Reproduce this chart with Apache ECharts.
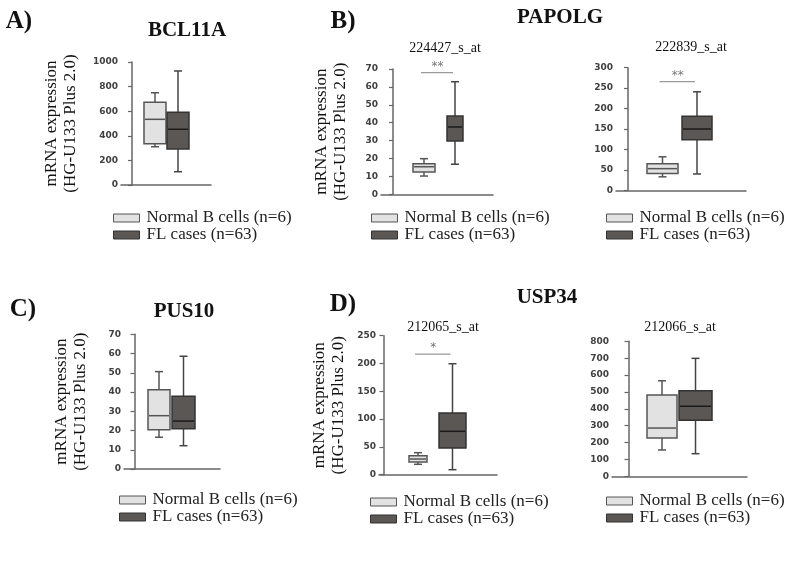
<!DOCTYPE html>
<html><head><meta charset="utf-8">
<script src="https://cdn.jsdelivr.net/npm/echarts@6/dist/echarts.min.js"></script>
<style>html,body{margin:0;padding:0;background:#fff}#c{width:788px;height:562px}</style>
</head><body><div id="c"></div>
<script>
// ---------- data ----------
const groupNames = ['Normal B cells (n=6)', 'FL cases (n=63)'];
const panelGenes = ['BCL11A', 'PAPOLG', 'PUS10', 'USP34'];
const panelLetters = ['A)', 'B)', 'C)', 'D)'];
const probeNames = ['', '224427_s_at', '222839_s_at', '', '212065_s_at', '212066_s_at'];
// five-number summaries: [min, Q1, median, Q3, max]
const bcl11aNormal = [311, 336, 534, 672, 750];
const bcl11aFL = [108, 293, 453, 591, 927];
const papolg224427Normal = [10.2, 12.5, 15.4, 17.1, 19.9];
const papolg224427FL = [16.8, 29.8, 37.6, 43.7, 62.9];
const papolg222839Normal = [33, 41, 53, 65, 82];
const papolg222839FL = [40, 124, 150, 181, 241];
const pus10Normal = [16.5, 20.4, 27.7, 41.2, 50.6];
const pus10FL = [12.1, 20.9, 24.9, 37.8, 58.6];
const usp34_212065Normal = [18.7, 22.8, 28.2, 34, 39.6];
const usp34_212065FL = [9, 48, 78, 111, 199.6];
const usp34_212066Normal = [156, 227, 286, 482, 566];
const usp34_212066FL = [134, 332, 415, 507, 699];
// y axis ticks
const yMax = [1000, 70, 300, 70, 250, 800];
const yStep = [200, 10, 50, 10, 50, 100];
// significance
const sigMarks = ['', '**', '**', '', '*', ''];
const sigLevels = [null, 68, 266, null, 217, null];
const yAxisTitle = 'mRNA expression\n(HG-U133 Plus 2.0)';

const panelData = [
  [bcl11aNormal, bcl11aFL],
  [papolg224427Normal, papolg224427FL],
  [papolg222839Normal, papolg222839FL],
  [pus10Normal, pus10FL],
  [usp34_212065Normal, usp34_212065FL],
  [usp34_212066Normal, usp34_212066FL]
];

// ---------- layout & style ----------
const grids = [
  {left: 121, top: 62, width: 90, height: 123},
  {left: 381, top: 69, width: 112, height: 125.3},
  {left: 616, top: 67.7, width: 130, height: 122.6},
  {left: 124, top: 334.3, width: 96, height: 134.7},
  {left: 379, top: 335.7, width: 118, height: 139},
  {left: 612, top: 341.3, width: 135, height: 135}
];
const xRanges = [[-0.478, 3.435], [-0.387, 3.226], [-0.348, 3.42], [-0.429, 3.49], [-0.13, 3.29], [-0.493, 3.537]];
const boxWidths = [[22, 22], [22, 16], [31, 30], [22, 23], [18, 27], [30, 33]];
const yNameGap = [41, 31, 0, 34, 31, 0];
const legendPos = [[113, 209.5], [371, 209.5], [606, 209.5], [119, 491.5], [370, 493.5], [606, 492.5]];
const capWidth = 8;
const boxStyles = [
  {fill: '#e2e2e2', border: '#555', whisker: '#555', median: '#555'},
  {fill: '#5b5755', border: '#333', whisker: '#444', median: '#1a1a1a'}
];
const serif = '"Liberation Serif", "DejaVu Serif", serif';

function boxRenderer(p, g) {
  return function (params, api) {
    const x = api.value(0);
    const pt = k => api.coord([x, api.value(k)]);
    const lo = pt(1), q1 = pt(2), md = pt(3), q3 = pt(4), hi = pt(5);
    const cx = lo[0], w = boxWidths[p][g], st = boxStyles[g];
    const ls = {stroke: st.whisker, lineWidth: 1.5};
    return {type: 'group', children: [
      {type: 'line', shape: {x1: cx, y1: hi[1], x2: cx, y2: q3[1]}, style: ls},
      {type: 'line', shape: {x1: cx, y1: q1[1], x2: cx, y2: lo[1]}, style: ls},
      {type: 'line', shape: {x1: cx - capWidth / 2, y1: hi[1], x2: cx + capWidth / 2, y2: hi[1]}, style: ls},
      {type: 'line', shape: {x1: cx - capWidth / 2, y1: lo[1], x2: cx + capWidth / 2, y2: lo[1]}, style: ls},
      {type: 'rect', shape: {x: cx - w / 2, y: q3[1], width: w, height: q1[1] - q3[1]},
        style: {fill: st.fill, stroke: st.border, lineWidth: 1.5}},
      {type: 'line', shape: {x1: cx - w / 2 + 1, y1: md[1], x2: cx + w / 2 - 1, y2: md[1]},
        style: {stroke: st.median, lineWidth: 1.5}}
    ]};
  };
}
function sigRenderer(p) {
  return function (params, api) {
    const a = api.coord([api.value(0), api.value(2)]);
    const b = api.coord([api.value(1), api.value(2)]);
    return {type: 'group', children: [
      {type: 'line', shape: {x1: a[0] - 3, y1: a[1], x2: b[0] - 2, y2: b[1]}, style: {stroke: '#9a9a9a', lineWidth: 1.2}},
      {type: 'text', x: (a[0] + b[0]) / 2 - 2, y: a[1] - 6,
        style: {text: sigMarks[p], fill: '#777', font: '12px "DejaVu Sans", sans-serif', align: 'center', verticalAlign: 'middle'}}
    ]};
  };
}

const xAxes = [], yAxes = [], series = [], legends = [];
panelData.forEach((pair, p) => {
  xAxes.push({gridIndex: p, type: 'value', min: xRanges[p][0], max: xRanges[p][1],
    axisLine: {show: true, onZero: false, lineStyle: {color: '#666', width: 1.5}},
    axisTick: {show: false}, axisLabel: {show: false}, splitLine: {show: false}});
  yAxes.push({gridIndex: p, type: 'value', min: 0, max: yMax[p], interval: yStep[p],
    name: yNameGap[p] ? yAxisTitle : '', nameLocation: 'middle', nameRotate: 90, nameGap: yNameGap[p],
    nameTextStyle: {fontFamily: serif, fontSize: 17, lineHeight: 19, color: '#111'},
    axisLine: {show: true, lineStyle: {color: '#666', width: 1.5}},
    axisTick: {show: true, length: 4, lineStyle: {color: '#666', width: 1.2}},
    axisLabel: {margin: 3, fontSize: 9, fontWeight: 'bold', color: '#404040', fontFamily: '"DejaVu Sans", sans-serif',
      formatter: v => String(v)},
    splitLine: {show: false}});
  pair.forEach((vals, g) => {
    series.push({type: 'custom', name: groupNames[g], coordinateSystem: 'cartesian2d',
      xAxisIndex: p, yAxisIndex: p, clip: false, silent: true,
      itemStyle: {color: boxStyles[g].fill, borderColor: boxStyles[g].border},
      encode: {x: 0, y: [1, 2, 3, 4, 5]},
      renderItem: boxRenderer(p, g),
      data: [[g + 1].concat(vals)]});
  });
  if (sigLevels[p] != null) {
    series.push({type: 'custom', name: 'sig' + p, coordinateSystem: 'cartesian2d',
      xAxisIndex: p, yAxisIndex: p, clip: false, silent: true,
      encode: {x: [0, 1], y: 2}, renderItem: sigRenderer(p),
      data: [[1, 2, sigLevels[p]]]});
  }
  legends.push({orient: 'vertical', left: legendPos[p][0], top: legendPos[p][1], padding: 0,
    itemWidth: 26, itemHeight: 8, itemGap: 0, icon: 'rect', selectedMode: false,
    textStyle: {fontFamily: serif, fontSize: 17, lineHeight: 17, color: '#222', padding: [0, 0, 0, 2]},
    data: groupNames.map((n, g) => ({name: n, itemStyle: {color: boxStyles[g].fill, borderColor: boxStyles[g].border, borderWidth: 1}}))});
});

function txt(s, x, y, size, bold) {
  return {type: 'text', x: x, y: y, silent: true,
    style: {text: s, fill: '#111', font: (bold ? 'bold ' : '') + size + 'px ' + serif, align: 'center', verticalAlign: 'middle'}};
}
const graphics = [
  txt(panelLetters[0], 19, 22, 25, true),
  txt(panelLetters[1], 343, 22, 25, true),
  txt(panelLetters[2], 23, 310, 25, true),
  txt(panelLetters[3], 343, 305, 25, true),
  txt(panelGenes[0], 187, 31, 21, true),
  txt(panelGenes[1], 560, 18, 21, true),
  txt(panelGenes[2], 184, 312, 21, true),
  txt(panelGenes[3], 547, 298, 21, true),
  txt(probeNames[1], 445, 48, 14, false),
  txt(probeNames[2], 691, 47, 14, false),
  txt(probeNames[4], 443, 327, 14, false),
  txt(probeNames[5], 680, 327, 14, false)
];

const chart = echarts.init(document.getElementById('c'), null, {renderer: 'canvas'});
chart.setOption({
  backgroundColor: '#fff',
  animation: false,
  grid: grids,
  xAxis: xAxes,
  yAxis: yAxes,
  legend: legends,
  series: series,
  graphic: graphics
});
</script></body></html>
